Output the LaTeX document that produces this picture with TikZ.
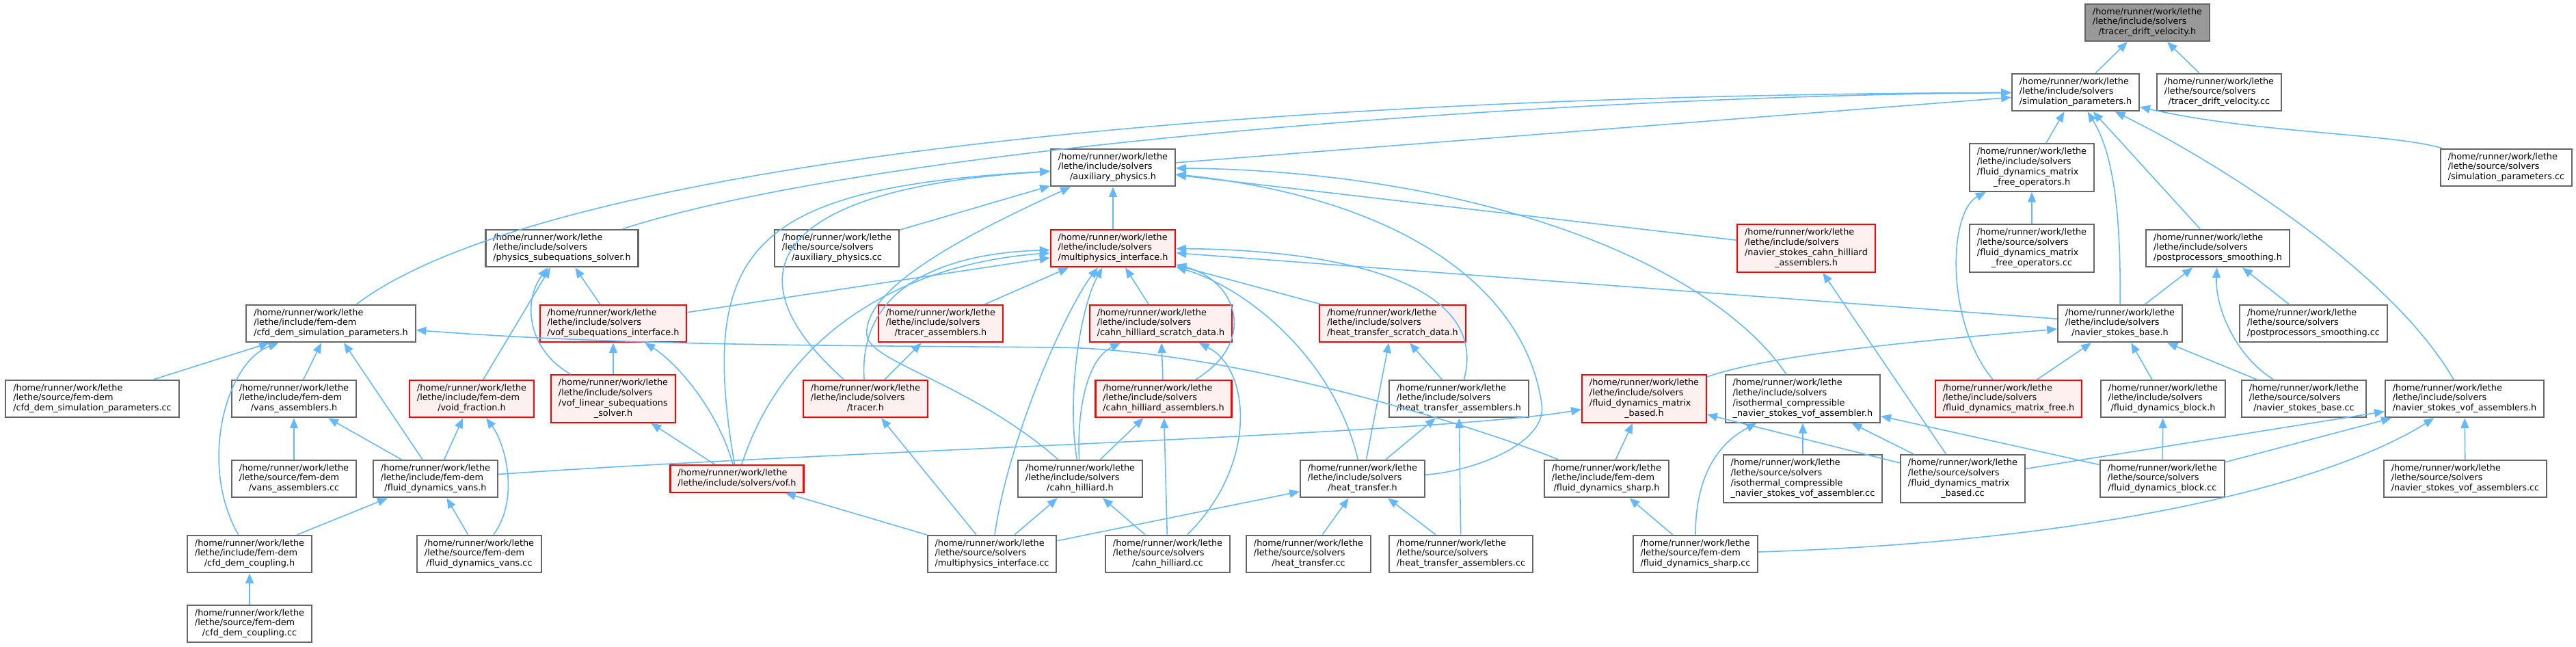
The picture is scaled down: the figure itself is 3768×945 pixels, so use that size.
\documentclass[tikz,border=0pt]{standalone}
\usepackage{fontspec}
\setmainfont{DejaVu Sans}
\usepackage{tikz}
\usetikzlibrary{arrows.meta}

\definecolor{azulflecha}{HTML}{63B8FF}
\definecolor{gris40}{HTML}{666666}
\definecolor{gris60}{HTML}{999999}
\definecolor{rojoclaro}{HTML}{FFF0F0}

% lineas a la izquierda, la ultima centrada
\newcommand{\etiq}[2]{\begin{tabular}{@{}l@{}}#1\\\multicolumn{1}{@{}c@{}}{#2}\end{tabular}}
\newcommand{\incsol}{/home/runner/work/lethe\\/lethe/include/solvers}
\newcommand{\srcsol}{/home/runner/work/lethe\\/lethe/source/solvers}
\newcommand{\incfd}{/home/runner/work/lethe\\/lethe/include/fem-dem}
\newcommand{\srcfd}{/home/runner/work/lethe\\/lethe/source/fem-dem}

\begin{document}
\begin{tikzpicture}[x=0.01cm, y=-0.01cm,
        font=\fontsize{3.65pt}{4.21pt}\selectfont,
        archivo/.style={draw=gris40, fill=white, line width=0.6pt, inner xsep=3.1pt, inner ysep=1.45pt},
        truncado/.style={archivo, draw=red, fill=rojoclaro},
        raiz/.style={archivo, fill=gris60},
        incl/.style={draw=azulflecha, line width=0.45pt, {Triangle[length=4.2pt,width=3.4pt]}-}]
        \useasboundingbox (0,0) rectangle (3768,945);

        % fila 0 y 1
        \node[raiz] (tdvh) at (3141,33) {\etiq{\incsol}{/tracer\_drift\_velocity.h}};
        \node[archivo] (simh) at (3036,135) {\etiq{\incsol}{/simulation\_parameters.h}};
        \node[archivo] (tdvcc) at (3246,135) {\etiq{\srcsol}{/tracer\_drift\_velocity.cc}};
        % fila 2
        \node[archivo] (auxh) at (1628,245) {\etiq{\incsol}{/auxiliary\_physics.h}};
        \node[archivo] (fdmfoh) at (2972,245) {\etiq{\incsol\\/fluid\_dynamics\_matrix}{\_free\_operators.h}};
        \node[archivo] (simcc) at (3666,245) {\etiq{\srcsol}{/simulation\_parameters.cc}};
        % fila 3
        \node[archivo] (physh) at (822,363) {\etiq{\incsol}{/physics\_subequations\_solver.h}};
        \node[archivo] (auxcc) at (1224,363) {\etiq{\srcsol}{/auxiliary\_physics.cc}};
        \node[truncado] (mih) at (1628,363) {\etiq{\incsol}{/multiphysics\_interface.h}};
        \node[truncado] (nschah) at (2642,363) {\etiq{\incsol\\/navier\_stokes\_cahn\_hilliard}{\_assemblers.h}};
        \node[archivo] (fdmfocc) at (2972,363) {\etiq{\srcsol\\/fluid\_dynamics\_matrix}{\_free\_operators.cc}};
        \node[archivo] (pph) at (3244,363) {\etiq{\incsol}{/postprocessors\_smoothing.h}};
        % fila 4
        \node[archivo] (cdsph) at (484,473) {\etiq{\incfd}{/cfd\_dem\_simulation\_parameters.h}};
        \node[truncado] (vsih) at (897,473) {\etiq{\incsol}{/vof\_subequations\_interface.h}};
        \node[truncado] (trah) at (1376,473) {\etiq{\incsol}{/tracer\_assemblers.h}};
        \node[truncado] (chsdh) at (1698,473) {\etiq{\incsol}{/cahn\_hilliard\_scratch\_data.h}};
        \node[truncado] (htsdh) at (2037,473) {\etiq{\incsol}{/heat\_transfer\_scratch\_data.h}};
        \node[archivo] (nsbh) at (3101,473) {\etiq{\incsol}{/navier\_stokes\_base.h}};
        \node[archivo] (ppcc) at (3384,473) {\etiq{\srcsol}{/postprocessors\_smoothing.cc}};
        % fila 5
        \node[archivo] (cdspcc) at (135,583) {\etiq{\srcfd}{/cfd\_dem\_simulation\_parameters.cc}};
        \node[archivo] (vah) at (430,583) {\etiq{\incfd}{/vans\_assemblers.h}};
        \node[truncado] (vfh) at (690,583) {\etiq{\incfd}{/void\_fraction.h}};
        \node[truncado] (vlsh) at (897,583) {\etiq{\incsol\\/vof\_linear\_subequations}{\_solver.h}};
        \node[truncado] (trh) at (1266,583) {\etiq{\incsol}{/tracer.h}};
        \node[truncado] (chah) at (1702,583) {\etiq{\incsol}{/cahn\_hilliard\_assemblers.h}};
        \node[archivo] (htah) at (2134,583) {\etiq{\incsol}{/heat\_transfer\_assemblers.h}};
        \node[truncado] (fdmbh) at (2405,583) {\etiq{\incsol\\/fluid\_dynamics\_matrix}{\_based.h}};
        \node[archivo] (icnsh) at (2637,583) {\etiq{\incsol\\/isothermal\_compressible}{\_navier\_stokes\_vof\_assembler.h}};
        \node[truncado] (fdmfh) at (2938,583) {\etiq{\incsol}{/fluid\_dynamics\_matrix\_free.h}};
        \node[archivo] (fdbh) at (3164,583) {\etiq{\incsol}{/fluid\_dynamics\_block.h}};
        \node[archivo] (nsbcc) at (3370,583) {\etiq{\srcsol}{/navier\_stokes\_base.cc}};
        \node[archivo] (nsvah) at (3605,583) {\etiq{\incsol}{/navier\_stokes\_vof\_assemblers.h}};
        % fila 6
        \node[archivo] (vacc) at (430,700) {\etiq{\srcfd}{/vans\_assemblers.cc}};
        \node[archivo] (fdvh) at (637,700) {\etiq{\incfd}{/fluid\_dynamics\_vans.h}};
        \node[truncado] (vofh) at (1078,700) {\etiq{/home/runner/work/lethe}{/lethe/include/solvers/vof.h}};
        \node[archivo] (chh) at (1580,700) {\etiq{\incsol}{/cahn\_hilliard.h}};
        \node[archivo] (hth) at (1993,700) {\etiq{\incsol}{/heat\_transfer.h}};
        \node[archivo] (fdsh) at (2350,700) {\etiq{\incfd}{/fluid\_dynamics\_sharp.h}};
        \node[archivo] (icnscc) at (2637,700) {\etiq{\srcsol\\/isothermal\_compressible}{\_navier\_stokes\_vof\_assembler.cc}};
        \node[archivo] (fdmbcc) at (2871,700) {\etiq{\srcsol\\/fluid\_dynamics\_matrix}{\_based.cc}};
        \node[archivo] (fdbcc) at (3163,700) {\etiq{\srcsol}{/fluid\_dynamics\_block.cc}};
        \node[archivo] (nsvacc) at (3606,700) {\etiq{\srcsol}{/navier\_stokes\_vof\_assemblers.cc}};
        % fila 7 y 8
        \node[archivo] (cdch) at (365,810) {\etiq{\incfd}{/cfd\_dem\_coupling.h}};
        \node[archivo] (fdvcc) at (701,810) {\etiq{\srcfd}{/fluid\_dynamics\_vans.cc}};
        \node[archivo] (micc) at (1451,810) {\etiq{\srcsol}{/multiphysics\_interface.cc}};
        \node[archivo] (chcc) at (1708,810) {\etiq{\srcsol}{/cahn\_hilliard.cc}};
        \node[archivo] (htcc) at (1914,810) {\etiq{\srcsol}{/heat\_transfer.cc}};
        \node[archivo] (htacc) at (2137,810) {\etiq{\srcsol}{/heat\_transfer\_assemblers.cc}};
        \node[archivo] (fdscc) at (2480,810) {\etiq{\srcfd}{/fluid\_dynamics\_sharp.cc}};
        \node[archivo] (cdccc) at (365,912) {\etiq{\srcfd}{/cfd\_dem\_coupling.cc}};

        % inclusiones rectas
        \foreach \a/\b in {tdvh/simh, tdvh/tdvcc, simh/auxh, simh/fdmfoh, simh/pph,
                auxh/auxcc, auxh/mih, auxh/nschah, fdmfoh/fdmfocc, physh/vsih, physh/vfh,
                mih/trah, mih/chsdh, mih/vsih, mih/nsbh, mih/htsdh, pph/nsbh, pph/ppcc,
                cdsph/cdspcc, cdsph/vah, cdsph/fdvh, vsih/vlsh, trah/trh, chsdh/chah,
                htsdh/hth, htsdh/htah, nsbh/fdmfh, nsbh/fdbh, nsbh/nsbcc, vah/vacc, vah/fdvh,
                vfh/fdvh, vlsh/vofh, trh/micc, chah/chh, chah/chcc, htah/hth, htah/htacc,
                fdmbh/fdsh, fdmbh/fdmbcc, icnsh/icnscc, icnsh/fdmbcc, icnsh/fdbcc, fdbh/fdbcc,
                nsvah/nsvacc, nsvah/fdbcc, nsvah/fdmbcc, fdvh/cdch, fdvh/fdvcc, vofh/micc,
                chh/micc, chh/chcc, hth/htcc, hth/htacc, hth/micc, fdsh/fdscc, cdch/cdccc,
                nschah/fdmbcc}
            \draw[incl] (\a) -- (\b);

        % inclusiones curvas
        \draw[incl] (simh) .. controls (1700,140) and (780,250) .. (cdsph);
        \draw[incl] (simh) .. controls (2300,140) and (1300,210) .. (physh);
        \draw[incl] (simh) .. controls (3095,230) and (3102,330) .. (nsbh);
        \draw[incl] (simh) .. controls (3250,240) and (3500,400) .. (nsvah);
        \draw[incl] (simh) .. controls (3300,195) and (3500,195) .. (simcc);
        \draw[incl] (auxh) .. controls (1100,275) and (1020,360) .. (vofh);
        \draw[incl] (auxh) .. controls (1130,275) and (1060,400) .. (trh);
        \draw[incl] (auxh) .. controls (1420,340) and (1262,420) .. (1268,490) .. controls (1272,530) and (1420,560) .. (chh);
        \draw[incl] (auxh) .. controls (2150,250) and (2500,380) .. (icnsh);
        \draw[incl] (auxh) .. controls (2050,290) and (2230,420) .. (2255,590) .. controls (2265,650) and (2150,690) .. (hth);
        \draw[incl] (fdmfoh) .. controls (2850,310) and (2845,470) .. (fdmfh);
        \draw[incl] (physh) .. controls (765,440) and (770,510) .. (vlsh);
        \draw[incl] (mih) .. controls (1380,370) and (1255,420) .. (trh);
        \draw[incl] (mih) .. controls (1330,385) and (1150,480) .. (vofh);
        \draw[incl] (mih) .. controls (1560,450) and (1475,640) .. (micc);
        \draw[incl] (mih) .. controls (1580,450) and (1560,580) .. (chh);
        \draw[incl] (mih) .. controls (1950,365) and (2180,410) .. (htah);
        \draw[incl] (mih) .. controls (1810,410) and (1840,500) .. (chah);
        \draw[incl] (mih) .. controls (1820,420) and (1950,520) .. (hth);
        \draw[incl] (pph) .. controls (3240,450) and (3270,520) .. (nsbcc);
        \draw[incl] (cdsph) .. controls (330,530) and (290,680) .. (cdch);
        \draw[incl] (cdsph) .. controls (900,505) and (1200,505) .. (1550,508) .. controls (1800,512) and (2150,620) .. (fdsh);
        \draw[incl] (vsih) .. controls (990,530) and (1050,600) .. (vofh);
        \draw[incl] (chsdh) .. controls (1590,525) and (1575,600) .. (chh);
        \draw[incl] (chsdh) .. controls (1830,540) and (1840,680) .. (chcc);
        \draw[incl] (nsbh) .. controls (2850,495) and (2600,515) .. (fdmbh);
        \draw[incl] (vfh) .. controls (740,650) and (760,730) .. (fdvcc);
        \draw[incl] (fdmbh) .. controls (2100,635) and (1200,660) .. (fdvh);
        \draw[incl] (icnsh) .. controls (2510,650) and (2480,700) .. (fdscc);
        \draw[incl] (nsvah) .. controls (3420,700) and (3100,790) .. (fdscc);
    \end{tikzpicture}
\end{document}
